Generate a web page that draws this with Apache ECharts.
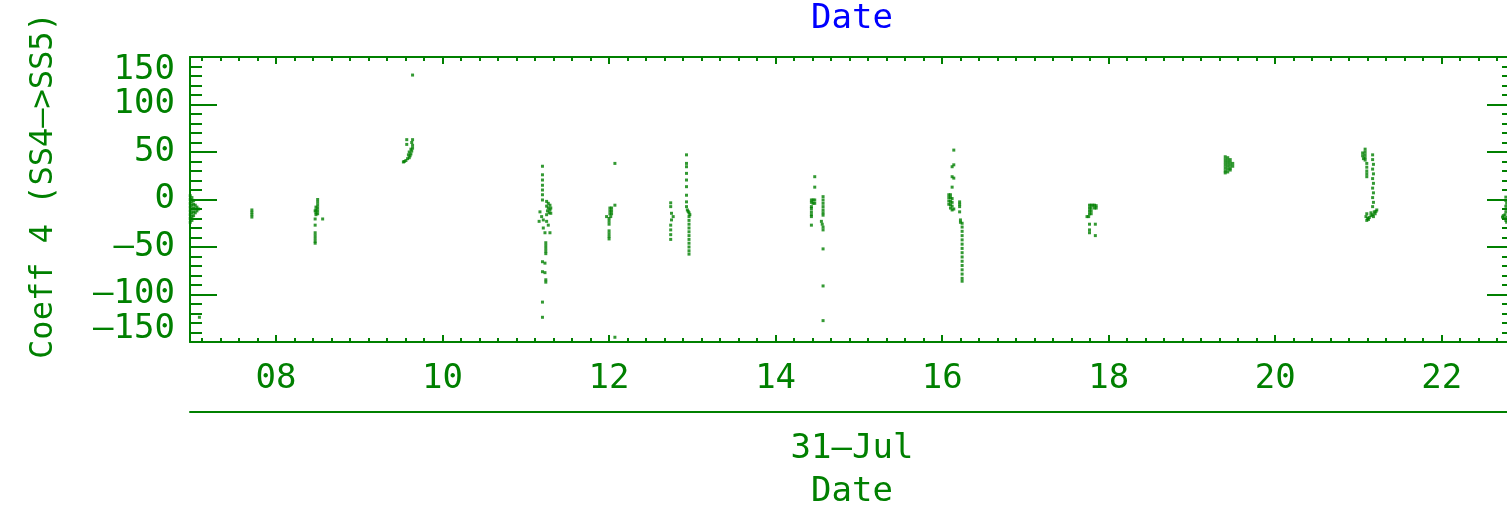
<!DOCTYPE html>
<html>
<head>
<meta charset="utf-8">
<script src="https://cdn.jsdelivr.net/npm/echarts/dist/echarts.min.js"></script>
<style>
  html, body { margin: 0; padding: 0; background: #fff; }
  #chart { width: 1507px; height: 508px; }
</style>
</head>
<body>
<div id="chart"></div>
<script>
// hours of day (31-Jul) vs coefficient value
const edge0700 = [[6.97,4],[6.97,0],[6.97,-4],[6.97,-8],[6.97,-12],[6.97,-16],[6.97,-20],[6.97,-24],
  [6.99,2],[6.99,-2],[6.99,-6],[6.99,-10],[6.99,-14],[6.99,-18],[6.99,-22],
  [7.01,-1],[7.01,-5],[7.01,-9],[7.01,-13],[7.01,-17],[7.03,-6],[7.03,-10],[7.03,-14],
  [7.05,-8],[7.05,-12],[7.07,-10],[7.08,-124]];
const at0742 = [[7.71,-11],[7.71,-13.5],[7.71,-16],[7.71,-18.5]];
const at0830 = [[8.50,0],[8.50,-3],[8.50,-6],[8.50,-9],[8.50,-12],[8.50,-15],[8.48,-8],[8.48,-11],
  [8.48,-14],[8.48,-16],[8.47,-12],[8.47,-20.5],[8.56,-20.5],[8.47,-27],[8.47,-35],[8.47,-38],
  [8.47,-41],[8.47,-44],[8.47,-46]];
const at0935 = [[9.57,63],[9.64,63],[9.57,58],[9.63,60],[9.64,57],[9.64,54],[9.63,51],[9.62,48],
  [9.61,46],[9.60,44],[9.58,43],[9.56,41],[9.54,40],[9.53,39.5],[9.59,47],[9.60,50],[9.62,53],
  [9.64,131]];
const at1112 = [[11.20,35],[11.20,26],[11.20,20.5],[11.20,15],[11.20,10],[11.20,5],[11.20,-0.5],
  [11.25,-2],[11.27,-4],[11.29,-6],[11.25,-7],[11.27,-9],[11.29,-11],[11.26,-12],[11.28,-14],
  [11.30,-14.5],[11.30,-9],[11.17,-13],[11.19,-18],[11.21,-21.5],[11.25,-23],[11.27,-27],
  [11.29,-35],[11.16,-23],[11.21,-30],[11.23,-35],[11.25,-16],
  [11.24,-45.5],[11.24,-48.5],[11.24,-51.5],[11.24,-54.5],[11.24,-57],
  [11.20,-65.5],[11.23,-67],[11.20,-76],[11.23,-77],[11.24,-84.5],[11.24,-87],
  [11.20,-108],[11.20,-124]];
const at1200 = [[12.07,38],[12.07,-6],[12.01,-9],[12.03,-9],[12.01,-12],[12.03,-12],[12.01,-15],
  [12.03,-15],[12.02,-18],[11.97,-18],[12.00,-20],[12.00,-23],[12.00,-26],[12.00,-33],
  [12.00,-36],[12.00,-39],[12.00,-41.5],[12.07,-145]];
const at1245 = [[12.74,-3.5],[12.74,-7.5],[12.75,-14.5],[12.77,-18],[12.75,-21.5],[12.74,-27],
  [12.74,-32],[12.74,-37],[12.74,-42]];
const at1255 = [[12.93,47],[12.93,38],[12.93,34.5],[12.93,27.5],[12.93,20.5],[12.93,13.5],
  [12.93,4.5],[12.93,-2.5],[12.93,-7.5],[12.94,-11],[12.95,-12.5],[12.96,-14],[12.97,-16],
  [12.96,-18],[12.96,-22],[12.96,-26],[12.96,-30],[12.96,-34],[12.96,-38],[12.96,-42],
  [12.96,-46],[12.96,-50],[12.96,-54],[12.96,-57.5]];
const at1428 = [[14.47,24],[14.47,13],[14.43,-0.5],[14.45,-0.5],[14.47,-0.5],[14.43,-3],
  [14.45,-4],[14.47,-4],[14.43,-7.5],[14.43,-9.5],[14.43,-13],[14.43,-16],[14.43,-18],
  [14.43,-27],[14.57,3],[14.57,-0.5],[14.57,-4],[14.57,-7.5],[14.57,-11],[14.57,-14],
  [14.57,-16.5],[14.55,-23],[14.56,-26],[14.57,-29],[14.57,-32],[14.57,-52],[14.57,-91],
  [14.57,-127.5]];
const at1609 = [[16.14,52],[16.12,34.5],[16.14,36.5],[16.12,24],[16.14,22.5],[16.12,13],
  [16.08,5],[16.10,5],[16.08,2],[16.10,2],[16.12,1],[16.08,-1.5],[16.10,-2],[16.12,-3],
  [16.08,-5],[16.10,-5.5],[16.12,-7],[16.10,-9],[16.12,-11],[16.14,-10],
  [16.21,-2.5],[16.21,-5],[16.21,-7.5],[16.21,-13],[16.22,-21.5],[16.22,-24],[16.24,-25],
  [16.24,-29],[16.24,-33.5],[16.24,-38],[16.24,-42.5],[16.24,-47],[16.24,-51.5],[16.24,-56],
  [16.24,-60.5],[16.24,-65],[16.24,-69.5],[16.24,-74],[16.24,-78.5],[16.24,-83],[16.24,-86]];
const at1747 = [[17.77,-6],[17.79,-6],[17.81,-6],[17.83,-6],[17.85,-6.5],[17.77,-9],[17.79,-9],
  [17.83,-9],[17.85,-9],[17.77,-12],[17.79,-12],[17.77,-15],[17.79,-15],[17.74,-18],
  [17.76,-18],[17.77,-26],[17.84,-26],[17.77,-32],[17.77,-35],[17.84,-38]];
const at1925 = [[19.40,45],[19.40,42],[19.40,39],[19.40,36],[19.40,33],[19.40,30],[19.40,28],
  [19.43,44],[19.43,41],[19.43,38],[19.43,35],[19.43,32],[19.43,29],[19.46,42],[19.46,39],
  [19.46,36],[19.46,33],[19.46,31],[19.49,38],[19.49,35]];
const at2103 = [[21.08,53],[21.08,50],[21.08,47],[21.08,44],[21.08,41.5],[21.05,49],[21.05,46],
  [21.06,43],[21.10,38],[21.10,34],[21.10,30],[21.10,27],[21.10,24],
  [21.17,47],[21.17,42],[21.18,37],[21.17,32],[21.18,27],[21.17,22],[21.18,17],[21.17,12],
  [21.18,7],[21.17,2],[21.18,-3],[21.17,-7.5],
  [21.22,-11],[21.21,-12.5],[21.19,-13],[21.20,-15],[21.17,-16],[21.15,-17],[21.18,-18],
  [21.13,-19],[21.11,-20],[21.10,-22],[21.12,-21],[21.09,-18],[21.10,-15],[21.15,-14]];
const edge2245 = [[22.77,2.5],[22.77,-1],[22.78,-4],[22.77,-7],[22.78,-10],[22.77,-13],
  [22.76,-16],[22.74,-17],[22.73,-18.5],[22.75,-20],[22.77,-22],[22.78,-19],[22.78,-24]];

const hourLabels = [8, 10, 12, 14, 16, 18, 20, 22];
const xMin = 6.967, xMax = 22.868;

const points = [].concat(edge0700, at0742, at0830, at0935, at1112, at1200, at1245, at1255,
  at1428, at1609, at1747, at1925, at2103, edge2245);

// minor ticks every 2/9 h like the original plot
const minorHours = [];
for (let k = -4; 8 + k * 2 / 9 < xMax; k++) {
  if (k % 9 !== 0) minorHours.push(8 + k * 2 / 9);
}

const GREEN = '#008000';
const FONT = 'DejaVu Sans Mono';
const line = { lineStyle: { color: GREEN, width: 2 } };

function tickAxis(pos, values, len, showLine) {
  return {
    type: 'value', position: pos, min: xMin, max: xMax,
    axisLine: { show: showLine, onZero: false, lineStyle: { color: GREEN, width: 2 } },
    axisTick: { show: true, inside: true, length: len, customValues: values, lineStyle: { color: GREEN, width: 2 } },
    axisLabel: { show: false },
    splitLine: { show: false }
  };
}

var myChart = echarts.init(document.getElementById('chart'));
var option = {
  animation: false,
  backgroundColor: '#fff',
  grid: { left: 190, top: 57, width: 1324, height: 285, outerBoundsMode: 'none' },
  xAxis: [
    Object.assign(tickAxis('bottom', hourLabels, 7, true), {
      axisLabel: {
        show: true, customValues: hourLabels, margin: 20,
        color: GREEN, fontFamily: FONT, fontSize: 34,
        formatter: v => (v < 10 ? '0' : '') + v
      }
    }),
    tickAxis('bottom', minorHours, 4, false),
    Object.assign(tickAxis('top', hourLabels, 7, true), {
      name: 'Date', nameLocation: 'middle', nameGap: 21, nameMoveOverlap: false,
      nameTextStyle: { color: '#0000ff', fontFamily: FONT, fontSize: 34 }
    }),
    tickAxis('top', minorHours, 4, false),
    {
      type: 'value', position: 'bottom', offset: 70, min: xMin, max: xMax,
      axisLine: { show: true, onZero: false, lineStyle: { color: GREEN, width: 2 } },
      axisTick: { show: false }, axisLabel: { show: false }, splitLine: { show: false },
      name: '31\u2014Jul\nDate', nameLocation: 'middle', nameGap: 16, nameMoveOverlap: false,
      nameTextStyle: { color: GREEN, fontFamily: FONT, fontSize: 34, lineHeight: 43 }
    }
  ],
  yAxis: [
    {
      type: 'value', position: 'left', min: -150, max: 150, interval: 50,
      axisLine: { show: true, onZero: false, ...line },
      axisTick: { inside: true, length: 27, ...line },
      minorTick: { show: true, splitNumber: 5, length: 12, ...line },
      splitLine: { show: false },
      axisLabel: {
        margin: 15, color: GREEN, fontFamily: FONT, fontSize: 34, lineHeight: 26,
        showMinLabel: true, showMaxLabel: true, hideOverlap: false,
        verticalAlignMinLabel: 'bottom', verticalAlignMaxLabel: 'top',
        formatter: v => (v < 0 ? '\u2014' + Math.abs(v) : String(v))
      },
      name: 'Coeff 4 (SS4\u2014>SS5)', nameLocation: 'middle', nameGap: 130, nameMoveOverlap: false,
      nameTextStyle: { color: GREEN, fontFamily: FONT, fontSize: 32, padding: [0, 0, 0, 28] }
    },
    {
      type: 'value', position: 'right', min: -150, max: 150, interval: 50,
      axisLine: { show: true, onZero: false, ...line },
      axisTick: { inside: true, length: 27, ...line },
      minorTick: { show: true, splitNumber: 5, length: 12, ...line },
      splitLine: { show: false },
      axisLabel: { show: false }
    }
  ],
  series: [
    {
      type: 'scatter',
      data: points,
      symbol: 'rect',
      symbolSize: 3,
      itemStyle: { color: GREEN },
      silent: true
    }
  ]
};
myChart.setOption(option);
</script>
</body>
</html>
